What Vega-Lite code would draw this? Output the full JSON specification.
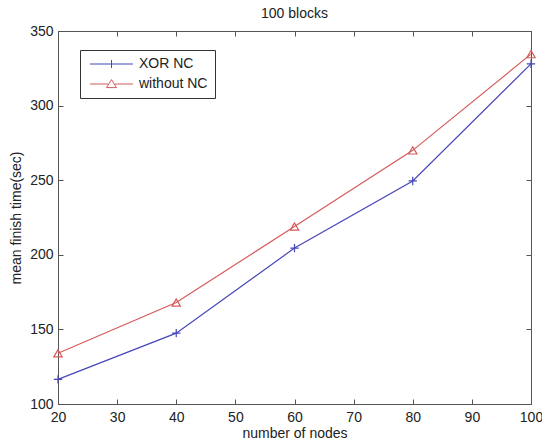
{
  "$schema": "https://vega.github.io/schema/vega-lite/v6.json",
  "width": 473,
  "height": 373,
  "autosize": {"type": "none"},
  "padding": {"left": 58, "top": 31, "right": 11, "bottom": 39},
  "background": "white",
  "title": {"text": "100 blocks", "fontSize": 14, "font": "Liberation Sans", "fontWeight": "normal", "color": "#222", "offset": 3},
  "config": {
    "view": {"stroke": "#555", "strokeWidth": 1},
    "axis": {
      "labelFont": "Liberation Sans",
      "titleFont": "Liberation Sans",
      "labelFontSize": 14,
      "titleFontSize": 14,
      "titleFontWeight": "normal",
      "labelColor": "#222",
      "titleColor": "#222",
      "domainColor": "#555",
      "tickColor": "#555",
      "tickSize": -5,
      "labelFlush": false,
      "grid": false
    },
    "legend": {
      "labelFont": "Liberation Sans",
      "labelFontSize": 14,
      "labelColor": "#222"
    }
  },
  "data": {
    "values": [
      {"nodes": 20, "time": 116.5, "series": "XOR NC"},
      {"nodes": 40, "time": 147.5, "series": "XOR NC"},
      {"nodes": 60, "time": 204.5, "series": "XOR NC"},
      {"nodes": 80, "time": 249.5, "series": "XOR NC"},
      {"nodes": 100, "time": 328, "series": "XOR NC"},
      {"nodes": 20, "time": 134, "series": "without NC"},
      {"nodes": 40, "time": 168, "series": "without NC"},
      {"nodes": 60, "time": 219, "series": "without NC"},
      {"nodes": 80, "time": 270, "series": "without NC"},
      {"nodes": 100, "time": 334.5, "series": "without NC"}
    ]
  },
  "layer": [
    {
      "layer": [
        {
          "mark": {"type": "line", "strokeWidth": 1.2},
          "encoding": {
            "x": {"field": "nodes", "type": "quantitative", "scale": {"domain": [20, 100], "nice": false}, "axis": {"title": "number of nodes", "values": [20, 30, 40, 50, 60, 70, 80, 90, 100], "labelPadding": 11, "titlePadding": 2, "domain": false}},
            "y": {"field": "time", "type": "quantitative", "scale": {"domain": [100, 350], "nice": false, "zero": false}, "axis": {"title": "mean finish time(sec)", "values": [100, 150, 200, 250, 300, 350], "labelPadding": 10, "titlePadding": 6, "domain": false}},
            "color": {
              "field": "series", "type": "nominal",
              "scale": {"domain": ["XOR NC", "without NC"], "range": ["#4646b8", "#d65a5a"]},
              "legend": {
                "title": null,
                "orient": "none",
                "legendX": 22,
                "legendY": 19,
                "strokeColor": "#333",
                "padding": 7,
                "symbolSize": 64,
                "symbolStrokeWidth": 1,
                "labelOffset": 38,
                "rowPadding": 6,
                "encode": {
                  "symbols": {
                    "update": {
                      "shape": {"signal": "datum.value === 'XOR NC' ? 'M-1,0L9.75,0M4.375,-1L4.375,1' : 'M-1,0L3.5,0M5.25,0L9.75,0M4.375,-1.1L5.625,0.9L3.125,0.9Z'"},
                      "fill": {"value": "transparent"}
                    }
                  }
                }
              }
            }
          }
        },
        {
          "transform": [{"filter": "datum.series === 'XOR NC'"}],
          "mark": {"type": "point", "filled": false, "strokeWidth": 1.2, "opacity": 1, "shape": "M-1,0L1,0M0,-1L0,1", "size": 70},
          "encoding": {
            "x": {"field": "nodes", "type": "quantitative"},
            "y": {"field": "time", "type": "quantitative"},
            "color": {"field": "series", "type": "nominal"}
          }
        },
        {
          "transform": [{"filter": "datum.series === 'without NC'"}],
          "mark": {"type": "point", "filled": false, "strokeWidth": 1.2, "opacity": 1, "shape": "triangle-up", "size": 70},
          "encoding": {
            "x": {"field": "nodes", "type": "quantitative"},
            "y": {"field": "time", "type": "quantitative"},
            "color": {"field": "series", "type": "nominal"}
          }
        }
      ]
    },
    {
      "mark": {"type": "point", "opacity": 0},
      "encoding": {
        "x": {"field": "nodes", "type": "quantitative", "scale": {"domain": [20, 100], "nice": false}, "axis": {"orient": "top", "labels": false, "title": null, "domain": false, "values": [20, 30, 40, 50, 60, 70, 80, 90, 100]}},
        "y": {"field": "time", "type": "quantitative", "scale": {"domain": [100, 350], "nice": false, "zero": false}, "axis": {"orient": "right", "labels": false, "title": null, "domain": false, "values": [100, 150, 200, 250, 300, 350]}}
      }
    }
  ],
  "resolve": {"scale": {"x": "independent", "y": "independent"}}
}
